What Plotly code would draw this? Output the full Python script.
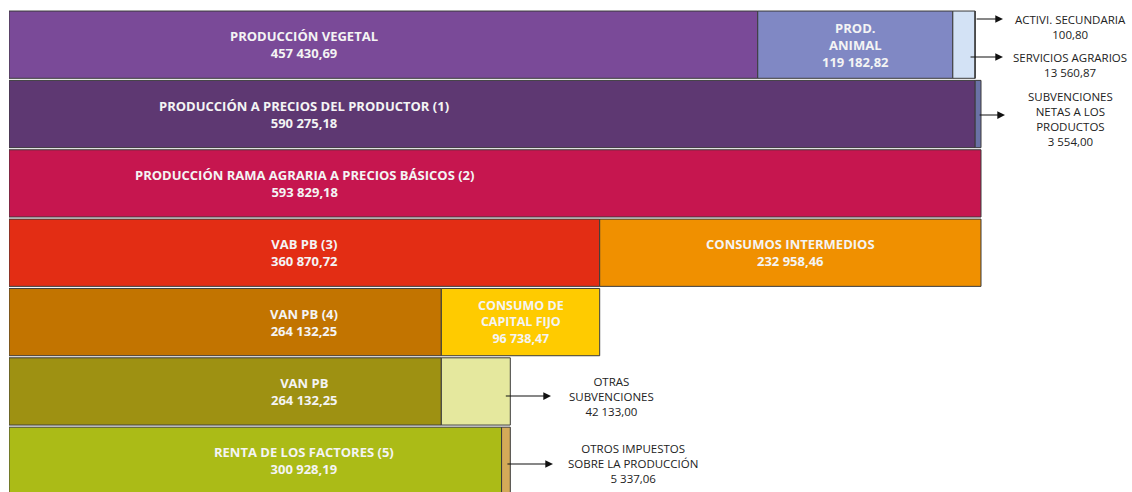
import plotly.graph_objects as go

# ---------------- data ----------------
seg_names = [
    "PRODUCCIÓN VEGETAL", "PROD.<br>ANIMAL", "SERVICIOS AGRARIOS", "ACTIVI. SECUNDARIA",
    "PRODUCCIÓN A PRECIOS DEL PRODUCTOR (1)", "SUBVENCIONES<br>NETAS A LOS<br>PRODUCTOS",
    "PRODUCCIÓN RAMA AGRARIA A PRECIOS BÁSICOS (2)",
    "VAB PB (3)", "CONSUMOS INTERMEDIOS",
    "VAN PB (4)", "CONSUMO DE<br>CAPITAL FIJO",
    "VAN PB", "OTRAS<br>SUBVENCIONES",
    "RENTA DE LOS FACTORES (5)", "OTROS IMPUESTOS<br>SOBRE LA PRODUCCIÓN",
]
seg_values = [
    457430.69, 119182.82, 13560.87, 100.80,
    590275.18, 3554.00,
    593829.18,
    360870.72, 232958.46,
    264132.25, 96738.47,
    264132.25, 42133.00,
    300928.19, 5337.06,
]
seg_rows = [0, 0, 0, 0, 1, 1, 2, 3, 3, 4, 4, 5, 5, 6, 6]
seg_label_inside = [True, True, False, False, True, False, True, True, True, True, True, True, False, True, False]

# ---------------- styles ----------------
seg_colors = [
    "#7a4a98", "#8088c4", "#d3e2f5", "#e4e4ee",
    "#5e3872", "#6a72a6",
    "#c6164f",
    "#e32d14", "#f09000",
    "#c27400", "#ffcb00",
    "#9e9112", "#e5e89e",
    "#abbb17", "#d4aa58",
]

def fmt(v):
    return f"{v:,.2f}".replace(",", " ").replace(".", ",")

# bases (cumulative per row)
bases = []
acc = {}
for r, v in zip(seg_rows, seg_values):
    b = acc.get(r, 0.0)
    bases.append(b)
    acc[r] = b + v

TOTAL = seg_values[6]
L_PX, PLOT_W, SCALE_PX = 9, 1123, 972
X_MAX = TOTAL * PLOT_W / SCALE_PX

def px2x(px):
    return (px - L_PX) / PLOT_W * X_MAX

unit_px = X_MAX / PLOT_W  # data units per pixel

fig = go.Figure()
for name, v, r, b, c in zip(seg_names, seg_values, seg_rows, bases, seg_colors):
    fig.add_trace(go.Bar(
        x=[v], y=[r], base=[b], orientation="h", width=0.97,
        marker=dict(color=c, line=dict(color="#3a3a3a", width=1)),
        hoverinfo="skip", showlegend=False, name=name.replace("<br>", " "),
    ))

ann = []
vab_center = seg_values[7] / 2
first_in_row = set()
seen = set()
for i, r in enumerate(seg_rows):
    if r not in seen:
        first_in_row.add(i)
        seen.add(r)

in_font = dict(family="Open Sans, sans-serif", size=13, color="#f4f4f4")
out_font = dict(family="Open Sans, sans-serif", size=11.5, color="#222222")

for i, (name, v, r, b) in enumerate(zip(seg_names, seg_values, seg_rows, bases)):
    if not seg_label_inside[i]:
        continue
    x = vab_center if i in first_in_row else b + v / 2
    size = 12.5 if i == 10 else 13
    ann.append(dict(
        x=x, y=r, xref="x", yref="y", showarrow=False,
        text=f"<b>{name}<br>{fmt(v)}</b>",
        font=dict(in_font, size=size), align="center",
    ))

# outside labels: (segment index, text centre px, text yshift, arrow head px, arrow yshift)
out_layout = {
    3: (1070, 18, 1003, 25.7),
    2: (1070, -20, 1003, -12.3),
    5: (1070, -4.5, 1005, -1),
    12: (611, -4.6, 551, -4.6),
    14: (633, -3.2, 553, -3.2),
}
for i, (tx, tys, hx, ays) in out_layout.items():
    v, r, b = seg_values[i], seg_rows[i], bases[i]
    ann.append(dict(
        x=px2x(tx), y=r, xref="x", yref="y", showarrow=False,
        text=f"{seg_names[i]}<br>{fmt(v)}",
        font=out_font, align="center", yshift=tys,
    ))
    tail = b + v - min(v / 2, 6 * unit_px)
    ann.append(dict(
        x=px2x(hx), y=r, xref="x", yref="y", ax=tail, ay=r, axref="x", ayref="y",
        text="", showarrow=True, arrowhead=2, arrowsize=1.4, arrowwidth=1.1,
        arrowcolor="#111111", standoff=0, startstandoff=0, yshift=ays,
    ))

fig.update_layout(
    width=1132, height=492,
    margin=dict(l=L_PX, r=0, t=10, b=0),
    paper_bgcolor="white", plot_bgcolor="white",
    barmode="overlay", showlegend=False,
    xaxis=dict(range=[0, X_MAX], visible=False, fixedrange=True),
    yaxis=dict(range=[6.45, -0.5], visible=False, fixedrange=True),
    annotations=ann,
)

fig.write_html(
    "out.html",
    config={"displayModeBar": False, "staticPlot": True},
    post_script="document.body.style.margin='0';document.body.style.overflow='hidden';",
)
